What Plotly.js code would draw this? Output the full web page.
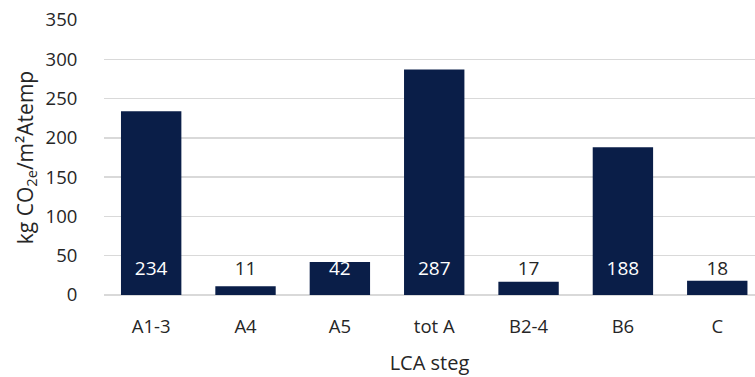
<!DOCTYPE html>
<html><head><meta charset="utf-8">
<script src="https://cdn.plot.ly/plotly-3.0.1.min.js"></script>
<style>html,body{margin:0;padding:0;background:#fff}</style>
</head><body>
<div id="chart" style="width:755px;height:377px"></div>
<script>
const categories = ["A1-3", "A4", "A5", "tot A", "B2-4", "B6", "C"];
const values = [234, 11, 42, 287, 17, 188, 18];
const labelY = 32;
const barColor = "#0a1e48";
const fontFam = "Open Sans, Noto Sans, sans-serif";

const bars = {
  type: "bar", x: categories, y: values,
  marker: {color: barColor}, hoverinfo: "skip"
};
const labels = {
  type: "scatter", mode: "text", x: categories,
  y: categories.map(() => labelY),
  text: values.map(String),
  textfont: {size: 19, family: fontFam, color: values.map(v => v > 30 ? "#ffffff" : "#262626")},
  hoverinfo: "skip", showlegend: false
};

const layout = {
  width: 755, height: 377,
  margin: {l: 104, r: 0, t: 20, b: 82},
  paper_bgcolor: "#fff", plot_bgcolor: "#fff",
  showlegend: false, bargap: 0.36,
  font: {family: fontFam, color: "#404040", size: 18},
  xaxis: {
    range: [-0.5, 6.4], showgrid: false, zeroline: false, showline: false,
    ticks: "outside", ticklen: 15, tickcolor: "rgba(0,0,0,0)",
    tickfont: {size: 18.5, color: "#262626"},
    title: {text: "LCA steg", font: {size: 20, color: "#262626"}, standoff: 18}
  },
  yaxis: {
    range: [0, 350], dtick: 50, showgrid: true, gridcolor: "#d9d9d9", gridwidth: 1.3,
    zeroline: true, zerolinecolor: "#d9d9d9", zerolinewidth: 1.3, showline: false,
    ticks: "outside", ticklen: 22, tickcolor: "rgba(0,0,0,0)",
    tickfont: {size: 18.5, color: "#262626"},
    title: {text: "kg CO<sub>2e</sub>/m²Atemp", font: {size: 21, color: "#262626"}, standoff: 6}
  }
};
Plotly.newPlot("chart", [bars, labels], layout, {displayModeBar: false, staticPlot: true});
</script>
</body></html>
